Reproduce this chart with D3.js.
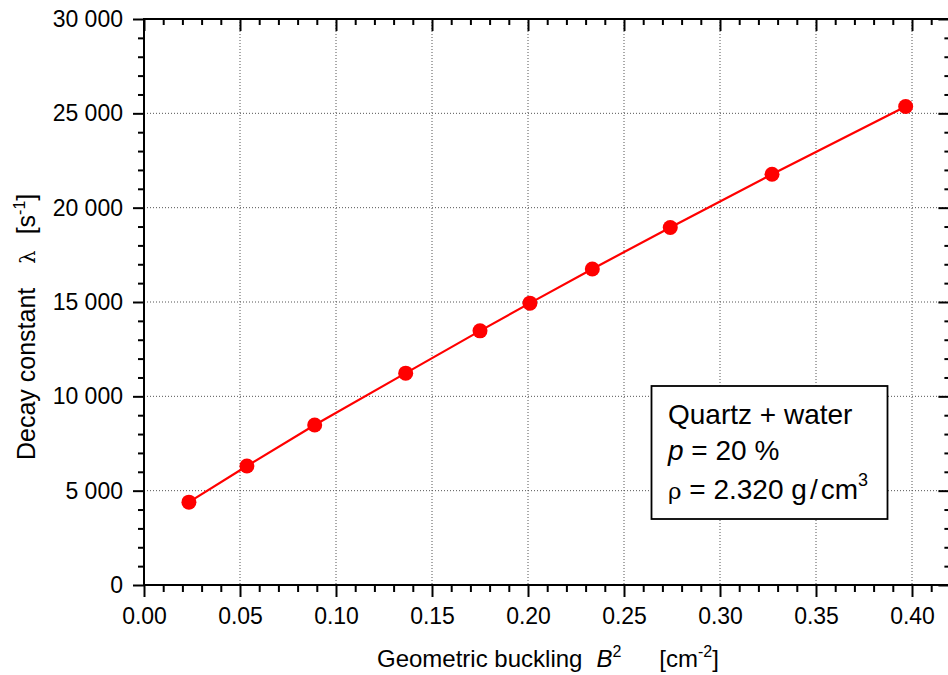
<!DOCTYPE html>
<html>
<head>
<meta charset="utf-8">
<script src="https://cdn.jsdelivr.net/npm/d3@7"></script>
<style>
  html, body { margin: 0; padding: 0; background: #fff; }
  svg { display: block; font-family: Arial, "Liberation Sans", sans-serif; }
  text { white-space: pre; }
</style>
</head>
<body>
<svg id="chart" width="948" height="675"></svg>
<script>
// ---- data ----
const bucklingB2 = [0.0234, 0.0536, 0.0889, 0.1363, 0.1750, 0.2010, 0.2335, 0.2741, 0.3271, 0.3967];
const decayConst = [4390, 6310, 8480, 11230, 13470, 14940, 16750, 18950, 21770, 25360];
const xTicks = [0.00, 0.05, 0.10, 0.15, 0.20, 0.25, 0.30, 0.35, 0.40];
const yTicks = [0, 5000, 10000, 15000, 20000, 25000, 30000];

// ---- layout ----
const svg = d3.select("#chart");
const pL = 144, pT = 19, pR = 950.4, pB = 585;
const FONT = "Arial, 'Liberation Sans', sans-serif";

const x = d3.scaleLinear().domain([0, 0.42]).range([pL, pR]);
const y = d3.scaleLinear().domain([0, 30000]).range([pB, pT]);

const loc = d3.formatLocale({decimal: ".", thousands: " ", grouping: [3], currency: ["", ""]});
const fmtY = loc.format(",");
const fmtX = d3.format(".2f");

const xMinor = d3.range(0, 0.42 + 1e-9, 0.01).filter(v => Math.abs(v / 0.05 - Math.round(v / 0.05)) > 1e-6);
const yMinor = d3.range(0, 30001, 1000).filter(v => v % 5000 !== 0);

// ---- grid ----
const grid = svg.append("g").attr("stroke", "#555").attr("stroke-width", 1).attr("stroke-dasharray", "1,2");
grid.selectAll("line.v").data(xTicks.filter(v => v > 0)).join("line")
  .attr("x1", d => x(d)).attr("x2", d => x(d)).attr("y1", pT).attr("y2", pB);
grid.selectAll("line.h").data(yTicks.filter(v => v > 0 && v < 30000)).join("line")
  .attr("x1", pL).attr("x2", pR).attr("y1", d => y(d)).attr("y2", d => y(d));

// ---- axes ----
function styleAxis(g) {
  g.select(".domain").remove();
  g.selectAll(".tick line").attr("stroke", "#000").attr("stroke-width", 2);
  g.selectAll("text").attr("fill", "#000").style("font-size", "23px").style("font-family", FONT);
}

// bottom
svg.append("g").attr("transform", `translate(0,${pB})`)
  .call(d3.axisBottom(x).tickValues(xTicks).tickFormat(fmtX).tickSize(12).tickPadding(11))
  .call(styleAxis);
svg.append("g").attr("transform", `translate(0,${pB})`)
  .call(d3.axisBottom(x).tickValues(xMinor).tickFormat("").tickSize(7))
  .call(styleAxis);
// top (inward)
svg.append("g").attr("transform", `translate(0,${pT})`)
  .call(d3.axisBottom(x).tickValues(xTicks).tickFormat("").tickSize(12))
  .call(styleAxis);
svg.append("g").attr("transform", `translate(0,${pT})`)
  .call(d3.axisBottom(x).tickValues(xMinor).tickFormat("").tickSize(6))
  .call(styleAxis);
// left
svg.append("g").attr("transform", `translate(${pL},0)`)
  .call(d3.axisLeft(y).tickValues(yTicks).tickFormat(fmtY).tickSize(11).tickPadding(10))
  .call(styleAxis);
svg.append("g").attr("transform", `translate(${pL},0)`)
  .call(d3.axisLeft(y).tickValues(yMinor).tickFormat("").tickSize(6))
  .call(styleAxis);
// right (inward)
svg.append("g").attr("transform", `translate(${pR},0)`)
  .call(d3.axisLeft(y).tickValues(yTicks).tickFormat("").tickSize(12))
  .call(styleAxis);
svg.append("g").attr("transform", `translate(${pR},0)`)
  .call(d3.axisLeft(y).tickValues(yMinor).tickFormat("").tickSize(6))
  .call(styleAxis);

// frame
svg.append("rect").attr("x", pL).attr("y", pT).attr("width", pR - pL).attr("height", pB - pT)
  .attr("fill", "none").attr("stroke", "#000").attr("stroke-width", 2);

// ---- series ----
const pts = bucklingB2.map((b, i) => [b, decayConst[i]]);
svg.append("path").datum(pts)
  .attr("fill", "none").attr("stroke", "#ff0000").attr("stroke-width", 2.2)
  .attr("d", d3.line().x(d => x(d[0])).y(d => y(d[1])));
svg.append("g").selectAll("circle").data(pts).join("circle")
  .attr("cx", d => x(d[0])).attr("cy", d => y(d[1])).attr("r", 7.5).attr("fill", "#ff0000");

// ---- axis titles ----
const yt = svg.append("text").attr("transform", "translate(35,460) rotate(-90)")
  .attr("text-anchor", "start").style("font-size", "25px").attr("fill", "#000");
yt.append("tspan").text("Decay constant");
yt.append("tspan").attr("dx", 24).text("λ").style("font-family", "'DejaVu Serif', serif").style("font-size", "21px");
yt.append("tspan").attr("dx", 16).text("[s");
yt.append("tspan").text("-1").attr("dy", -10).style("font-size", "16px");
yt.append("tspan").text("]").attr("dy", 10);

const xt = svg.append("text").attr("x", 377).attr("y", 667)
  .attr("text-anchor", "start").style("font-size", "24px").attr("fill", "#000");
xt.append("tspan").text("Geometric buckling");
xt.append("tspan").attr("dx", 14).text("B").style("font-style", "italic");
xt.append("tspan").text("2").attr("dy", -10).style("font-size", "16px");
xt.append("tspan").attr("dx", 38).text("[cm").attr("dy", 10);
xt.append("tspan").text("-2").attr("dy", -10).style("font-size", "16px");
xt.append("tspan").text("]").attr("dy", 10);

// ---- legend ----
const lg = svg.append("g");
lg.append("rect").attr("x", 651.5).attr("y", 386).attr("width", 236).attr("height", 133)
  .attr("fill", "#fff").attr("stroke", "#000").attr("stroke-width", 1.8);
lg.append("text").attr("x", 668).attr("y", 424).style("font-size", "28px").text("Quartz + water");
const l2 = lg.append("text").attr("x", 668).attr("y", 460).style("font-size", "28px");
l2.append("tspan").text("p").style("font-style", "italic");
l2.append("tspan").text(" = 20 %");
const l3 = lg.append("text").attr("x", 668).attr("y", 499).style("font-size", "28px");
l3.append("tspan").text("ρ").style("font-family", "'DejaVu Serif', serif").style("font-size", "23px");
l3.append("tspan").text(" = 2.320 g");
l3.append("tspan").attr("dx", 3).text("/");
l3.append("tspan").attr("dx", 3).text("cm");
l3.append("tspan").text("3").attr("dy", -13).style("font-size", "18px");
</script>
</body>
</html>
